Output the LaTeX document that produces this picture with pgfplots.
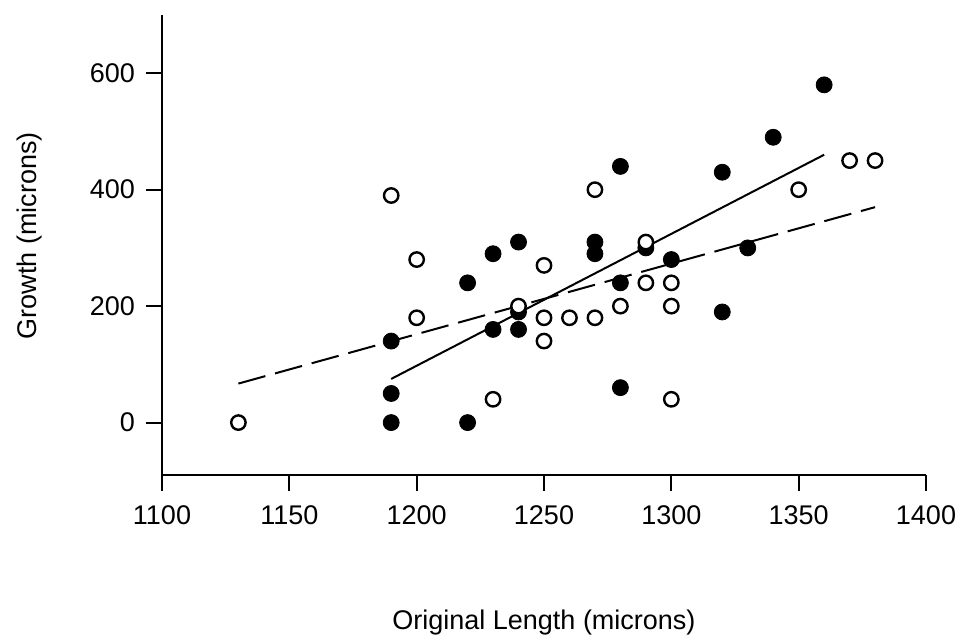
\documentclass[border=0pt]{standalone}
\usepackage{fontspec}
\setmainfont{Liberation Sans}
\usepackage{pgfplots}
\pgfplotsset{compat=1.18}
\begin{document}
\begin{tikzpicture}
\begin{axis}[
  scale only axis,
  width=382pt, height=230pt,
  xmin=1100, xmax=1400, ymin=-90, ymax=700,
  axis x line*=bottom, axis y line*=left,
  axis line style={line width=1pt},
  xtick={1100,1150,...,1400},
  ytick={0,200,400,600},
  tick align=outside,
  major tick length=8pt,
  tick style={line width=1pt, black},
  scaled ticks=false,
  /pgf/number format/1000 sep={},
  /pgf/number format/assume math mode=true,
  ticklabel style={font=\fontsize{13.5}{16}\selectfont},
  xticklabel style={yshift=-4pt},
  yticklabel style={xshift=-2pt},
  xlabel={Original Length (microns)},
  ylabel={Growth (microns)},
  label style={font=\fontsize{13.5}{16}\selectfont},
  xlabel style={at={(axis description cs:0.5,-0.32)}, anchor=center},
  ylabel style={at={(axis description cs:-0.173,0.52)}, anchor=center},
  clip=false,
]
% regression lines
\addplot[black, line width=1pt, mark=none] coordinates {(1190,75) (1360,460)};
\addplot[black, line width=1pt, mark=none, dash pattern=on 14pt off 5pt] coordinates {(1130,67) (1380,370)};
% filled circles
\addplot[only marks, mark=*, mark size=4pt, mark options={fill=black, draw=black}] coordinates {
(1190,140) (1190,50) (1190,0) (1220,240) (1220,0) (1230,290) (1230,160)
(1240,310) (1240,190) (1240,160) (1270,310) (1270,290) (1280,440) (1280,240)
(1280,60) (1290,300) (1300,280) (1320,430) (1320,190) (1330,300) (1340,490) (1360,580)
};
% open circles
\addplot[only marks, mark=*, mark size=3.6pt, mark options={fill=white, draw=black, line width=1.2pt}] coordinates {
(1130,0) (1190,390) (1200,280) (1200,180) (1230,40) (1240,200) (1250,270)
(1250,180) (1250,140) (1260,180) (1270,400) (1270,180) (1280,200) (1290,310)
(1290,240) (1300,240) (1300,200) (1300,40) (1350,400) (1370,450) (1380,450)
};
\end{axis}
\pgfresetboundingbox
\path ([shift={(-81pt,-83.5pt)}]current axis.south west) rectangle ([shift={(19pt,7.5pt)}]current axis.north east);
\end{tikzpicture}
\end{document}
